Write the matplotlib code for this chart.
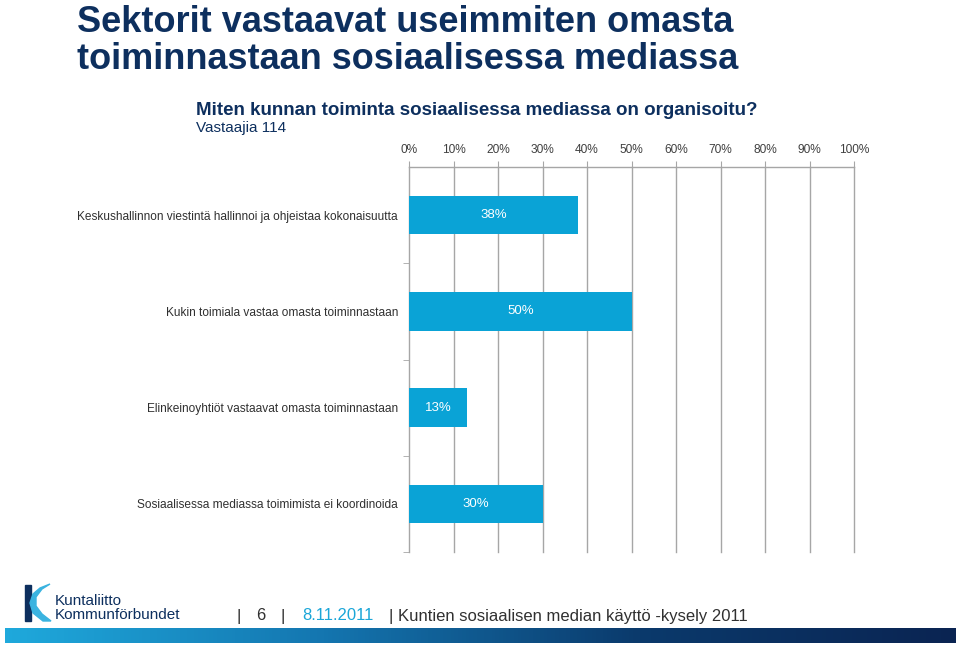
import matplotlib
matplotlib.use("Agg")
import matplotlib.pyplot as plt
import numpy as np
from matplotlib.patches import Polygon

plt.rcParams['font.family'] = ['Liberation Sans', 'DejaVu Sans']

# data
categories = [
    "Keskushallinnon viestintä hallinnoi ja ohjeistaa kokonaisuutta",
    "Kukin toimiala vastaa omasta toiminnastaan",
    "Elinkeinoyhtiöt vastaavat omasta toiminnastaan",
    "Sosiaalisessa mediassa toimimista ei koordinoida",
]
values = [38, 50, 13, 30]
xticks = [0, 10, 20, 30, 40, 50, 60, 70, 80, 90, 100]

navy = "#0d2f5e"
barblue = "#0aa3d6"
grid = "#a6a6a6"

fig = plt.figure(figsize=(9.6, 6.45), dpi=100)

# titles
fig.text(77 / 960, 1 - 32 / 645, "Sektorit vastaavat useimmiten omasta",
         fontsize=26, fontweight="bold", color=navy, va="baseline", ha="left")
fig.text(77 / 960, 1 - 69 / 645, "toiminnastaan sosiaalisessa mediassa",
         fontsize=26, fontweight="bold", color=navy, va="baseline", ha="left")
fig.text(196 / 960, 1 - 115 / 645, "Miten kunnan toiminta sosiaalisessa mediassa on organisoitu?",
         fontsize=13.5, fontweight="bold", color=navy, va="baseline", ha="left")
fig.text(196 / 960, 1 - 132 / 645, "Vastaajia 114",
         fontsize=11, color=navy, va="baseline", ha="left")

# chart
ax = fig.add_axes([409 / 960, 1 - 552 / 645, 445 / 960, 385 / 645])
y = np.arange(len(categories))
ax.barh(y, values, height=0.4, color=barblue, zorder=3)
for yi, v in zip(y, values):
    ax.text(v / 2, yi, f"{v}%", color="white", ha="center", va="center",
            fontsize=9.5, zorder=4)
ax.set_xlim(0, 100)
ax.set_ylim(len(categories) - 0.5, -0.5)
ax.set_xticks(xticks)
ax.set_xticklabels([f"{t}%" for t in xticks])
ax.xaxis.tick_top()
ax.tick_params(axis="x", direction="out", length=4, color=grid, labelsize=8.6,
               labelcolor="#404040", pad=4)
ax.set_yticks(np.arange(1, len(categories) + 1) - 0.5, minor=True)
ax.set_yticks(y)
ax.set_yticklabels(categories)
ax.tick_params(axis="y", which="major", length=0, labelsize=8.6, labelcolor="#303030", pad=8)
ax.tick_params(axis="y", which="minor", length=4, color=grid)
ax.grid(axis="x", color=grid, linewidth=1, zorder=0)
for gl in ax.get_xgridlines():
    gl.set_clip_on(False)
for s in ["right", "bottom", "left"]:
    ax.spines[s].set_visible(False)
ax.spines["top"].set_color(grid)
ax.spines["top"].set_linewidth(1)

# footer
fy = 1 - 616 / 645
fig.text(237 / 960, fy, "|", fontsize=12, color="#303030", va="center")
fig.text(256 / 960, fy, "6", fontsize=12, color="#303030", va="center")
fig.text(281 / 960, fy, "|", fontsize=12, color="#303030", va="center")
fig.text(302 / 960, fy, "8.11.2011", fontsize=12, color="#1aa6d8", va="center")
fig.text(388 / 960, fy, "|", fontsize=12, color="#303030", va="center")
fig.text(398 / 960, fy, "Kuntien sosiaalisen median käyttö -kysely 2011",
         fontsize=12, color="#303030", va="center")

# logo
fig.text(55 / 960, 1 - 601 / 645, "Kuntaliitto", fontsize=11, color=navy, va="center")
fig.text(55 / 960, 1 - 615 / 645, "Kommunförbundet", fontsize=11, color=navy, va="center")
def fp(pts):
    return [(px / 960, 1 - py / 645) for px, py in pts]
fig.patches.append(Polygon(fp([(25, 585), (31, 585), (31, 621), (25, 621)]),
                           closed=True, color=navy, transform=fig.transFigure))
fig.patches.append(Polygon(fp([(50, 584), (42, 589), (36, 597), (36, 606), (42, 614), (51, 621),
                               (43, 621), (33, 613), (30, 603), (33, 594), (40, 588)]),
                           closed=True, color="#3ab3e0", transform=fig.transFigure))

# gradient bar
gax = fig.add_axes([5 / 960, 1 - 643 / 645, 950 / 960, 15 / 645])
grad = np.linspace(0, 1, 256).reshape(1, -1)
cmap = matplotlib.colors.LinearSegmentedColormap.from_list(
    "g", ["#1fa9dc", "#1476b0", "#0b3a6c", "#0a2452"])
gax.imshow(grad, aspect="auto", cmap=cmap)
gax.axis("off")

fig.savefig("out.png", dpi=100)
